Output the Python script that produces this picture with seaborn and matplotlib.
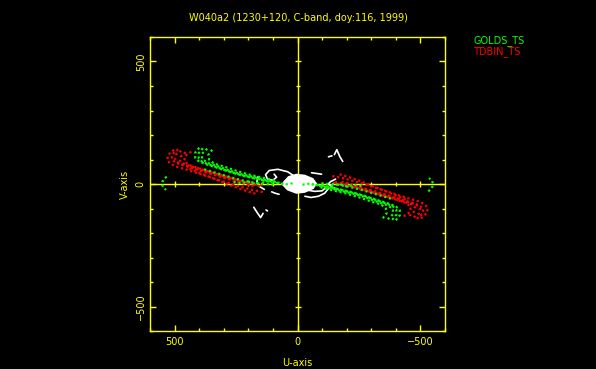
import numpy as np
import pandas as pd
import matplotlib
matplotlib.use("Agg")
import matplotlib.pyplot as plt
import seaborn as sns

# ---- data (one half of each uv track; the conjugate points are also plotted) ----
red_u1 = [502, 526, 530, 518, 490, 449, 400, 351, 298, 245, 188, 131]
red_v1 = [140, 119, 99, 83, 70, 58, 42, 26, 9, -7, -23, -35]
red_u2 = [485, 508, 512, 498, 470, 430, 385, 335, 285, 235, 185]
red_v2 = [142, 122, 102, 88, 78, 66, 52, 37, 22, 8, -6]
red_u3 = [473, 494, 498, 481, 441, 392, 339, 286, 228, 171]
red_v3 = [136, 120, 99, 83, 71, 54, 38, 22, 5, -11]
red_u4 = [455, 475, 478, 462, 430, 390, 345, 295, 245, 195, 150]
red_v4 = [130, 112, 95, 82, 72, 60, 46, 32, 17, 2, -10]
red_u5 = [432, 457, 461, 445, 408, 359, 310, 253, 196, 139]
red_v5 = [132, 115, 95, 79, 66, 50, 34, 18, 5, -7]
red_u6 = [440, 410, 370, 330, 290, 250, 210, 170]
red_v6 = [62, 50, 34, 18, 2, -14, -28, -40]

grn_u1 = [400, 416, 416, 400, 367, 326, 277, 224, 171, 114, 57]
grn_v1 = [148, 128, 107, 91, 79, 66, 50, 34, 22, 9, 1]
grn_u2 = [385, 402, 402, 386, 352, 310, 262, 210, 158, 104]
grn_v2 = [146, 126, 105, 89, 77, 62, 46, 32, 19, 7]
grn_u3 = [367, 388, 388, 367, 330, 286, 237, 184, 131, 73]
grn_v3 = [144, 124, 103, 87, 75, 58, 42, 30, 17, 5]
grn_u4 = [347, 363, 359, 339, 298, 249, 196, 143, 90]
grn_v4 = [140, 119, 99, 83, 71, 54, 38, 26, 13]
grn_u5 = [380, 340, 300, 260, 220, 180, 140]
grn_v5 = [60, 48, 36, 24, 14, 6, 0]
grn_u6 = [532, 543, 550, 551, 546, 535]
grn_v6 = [30, 20, 8, -3, -14, -24]
grn_u7 = [260, 230, 200, 170, 140, 110, 80, 50, 20]
grn_v7 = [8, 3, 10, 0, 6, -4, 5, -2, 3]

red_tracks = [(red_u1, red_v1), (red_u2, red_v2), (red_u3, red_v3),
              (red_u4, red_v4), (red_u5, red_v5), (red_u6, red_v6)]
grn_tracks = [(grn_u1, grn_v1), (grn_u2, grn_v2), (grn_u3, grn_v3),
              (grn_u4, grn_v4), (grn_u5, grn_v5), (grn_u6, grn_v6),
              (grn_u7, grn_v7)]

# white source-image overlay (contour sketches)
blob_u = [58, 38, 5, -30, -64, -80, -66, -30, 5, 42, 62]
blob_v = [10, 32, 42, 38, 24, 2, -20, -36, -40, -26, -5]
white_lines = [
    ([10, 40, 80, 115, 130, 122, 100, 85, 95], [30, 50, 60, 55, 38, 20, 15, 28, 40]),
    ([160, 165, 155, 135], [30, 10, -10, -22]),
    ([105, 90, 75], [-32, -38, -42]),
    ([-30, -55, -85, -110, -125], [-50, -55, -50, -38, -20]),
    ([-40, -70, -100, -115], [-25, -30, -28, -15]),
    ([-155, -135, -125, -140, -160], [20, 10, 0, -12, -22]),
    ([-57, -98], [46, 40]),
    ([178, 165, 150, 140], [-95, -115, -137, -120]),
    ([128, 122], [-106, -110]),
    ([-126, -140], [111, 115]),
    ([-150, -160, -172, -184], [120, 140, 112, 92]),
]

stations = ["GOLDS_TS", "TDBIN_TS"]
title = "W040a2 (1230+120, C-band, doy:116, 1999)"

# ---- build long table ----
rows = []
tid = 0
for name, tracks in (("TDBIN_TS", red_tracks), ("GOLDS_TS", grn_tracks)):
    for (us, vs) in tracks:
        for sign in (1, -1):
            for u, v in zip(us, vs):
                rows.append(dict(u=sign * u, v=sign * v, station=name, track=tid))
            tid += 1
df = pd.DataFrame(rows)

sns.set_theme(style="dark")
plt.rcParams["font.family"] = ["DejaVu Sans"]
YEL = "#ffff00"

fig = plt.figure(figsize=(5.96, 3.69), dpi=100, facecolor="black")
ax = fig.add_axes([150 / 596, 38 / 369, 295 / 596, 294 / 369])
ax.set_facecolor("black")

# central cross with ticks
ax.axhline(0, color=YEL, lw=1, zorder=1)
ax.axvline(0, color=YEL, lw=1, zorder=1)
tpos = np.arange(-500, 501, 100)
tpos = tpos[tpos != 0]
big = np.abs(tpos) == 500
ax.plot(tpos[~big], np.zeros((~big).sum()), ls="none", marker="|", ms=3.5, mew=1, color=YEL, zorder=1)
ax.plot(tpos[big], np.zeros(big.sum()), ls="none", marker="|", ms=5, mew=1, color=YEL, zorder=1)
ax.plot(np.zeros((~big).sum()), tpos[~big], ls="none", marker="_", ms=3.5, mew=1, color=YEL, zorder=1)
ax.plot(np.zeros(big.sum()), tpos[big], ls="none", marker="_", ms=5, mew=1, color=YEL, zorder=1)

# white overlay
ax.fill(blob_u, blob_v, color="white", zorder=2, lw=0)
for us, vs in white_lines:
    ax.plot(us, vs, color="white", lw=1.2, zorder=2)

sns.lineplot(data=df, x="u", y="v", hue="station", units="track", estimator=None,
             sort=False, palette={"GOLDS_TS": "#00ff00", "TDBIN_TS": "#ff0000"},
             hue_order=["TDBIN_TS", "GOLDS_TS"], legend=False, ax=ax,
             lw=1.6, linestyle=(0, (1, 1.2)), zorder=3)

ax.set_xlim(600, -600)
ax.set_ylim(-600, 600)
ax.set_xticks([500, 0, -500])
ax.set_xticklabels(["500", "0", "\u2212500"])
ax.set_yticks([-500, 0, 500])
ax.set_yticklabels(["\u2212500", "0", "500"], rotation=90, va="center")
ax.set_xticks(np.arange(-600, 601, 100), minor=True)
ax.set_yticks(np.arange(-600, 601, 100), minor=True)
ax.tick_params(which="both", direction="in", top=True, right=True, bottom=True, left=True,
               color=YEL, labelcolor=YEL, labelsize=7, width=1)
ax.tick_params(which="major", length=4, pad=4)
ax.tick_params(which="minor", length=2.5)
ax.tick_params(axis="y", pad=3)
ax.grid(False)
for s in ax.spines.values():
    s.set_color(YEL)
    s.set_linewidth(1)
    s.set_visible(True)
ax.set_xlabel("U-axis", color=YEL, fontsize=7, labelpad=8)
ax.set_ylabel("V-axis", color=YEL, fontsize=7, labelpad=4)

fig.text(298 / 596, 1 - 18 / 369, title, color=YEL, fontsize=7, ha="center", va="center")
fig.text(473 / 596, 1 - 41 / 369, stations[0], color="#00ff00", fontsize=7, ha="left", va="center")
fig.text(473 / 596, 1 - 52 / 369, stations[1], color="#ff0000", fontsize=7, ha="left", va="center")

fig.savefig("out.png", dpi=100, facecolor="black")
